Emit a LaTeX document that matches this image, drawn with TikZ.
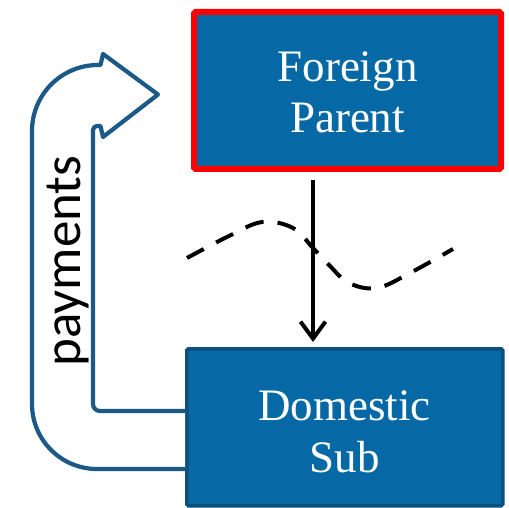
\documentclass[tikz,border=0pt]{standalone}
\usepackage{fontspec}
\setmainfont{Liberation Serif}
\newfontfamily\paysans{Carlito}
\usetikzlibrary{arrows.meta,calc}
\definecolor{boxblue}{HTML}{0669A6}
\definecolor{darkrim}{HTML}{0D4F7C}
\definecolor{payblue}{HTML}{1B5A87}
\tikzset{
  entitybox/.style={rectangle, fill=boxblue, rounded corners=1.5pt, inner sep=0pt},
  boxtext/.style={text=white, font=\fontsize{45}{51}\selectfont, anchor=base, inner sep=0pt},
  payarrow/.style={draw=payblue, line width=4.2pt, line join=round, fill=white},
  paylabel/.style={font=\paysans\fontsize{53}{60}\selectfont, rotate=90, anchor=base, inner sep=0pt},
  flowline/.style={line width=4pt, -{Straight Barb[length=17pt,width=25pt,line width=4pt]}, shorten <=8pt, shorten >=5pt},
  wave/.style={line width=4pt, dash pattern=on 19pt off 14pt}
}
\begin{document}
\begin{tikzpicture}[x=1pt,y=-1pt]
\useasboundingbox (0,0) rectangle (509,508);
% boxes
\node[entitybox, draw=red, line width=6pt, minimum width=307pt, minimum height=157pt] (fp) at (347.5,90.5) {};
\node[entitybox, draw=darkrim, line width=3.5pt, minimum width=316pt, minimum height=157pt] (ds) at (344.75,427.25) {};
% box texts
\node[boxtext] (fpa) at (347.5,82) {Foreign};
\node[boxtext] (fpb) at (347.5,133) {Parent};
\node[boxtext] (dsa) at (344.7,420) {Domestic};
\node[boxtext] (dsb) at (344.7,472) {Sub};
% payments block arrow
\draw[payarrow] (185,469) -- (97,469)
  .. controls (61.1,469) and (32,439.9) .. (32,404) -- (32,131)
  .. controls (32,94.5) and (61.5,65) .. (98,65) -- (100.5,65) -- (103,54) -- (158,94.5) -- (103,137) -- (100.5,126) -- (97,126)
  .. controls (94.8,126) and (93,127.8) .. (93,130) -- (93,404)
  .. controls (93,407.9) and (96.1,411) .. (100,411) -- (185,411);
\node[paylabel] (pay) at (80,261) {payments};
% dashed wave
\draw[wave] plot[smooth, tension=0.6] coordinates {(187,258) (227,237) (262,222) (293,228) (313,248) (329,265) (349,283) (377,288) (410,273) (453,249)};
% flow arrow
\coordinate (xc) at (313,0);
\draw[flowline] (fp.south -| xc) -- (ds.north -| xc);
\end{tikzpicture}
\end{document}
